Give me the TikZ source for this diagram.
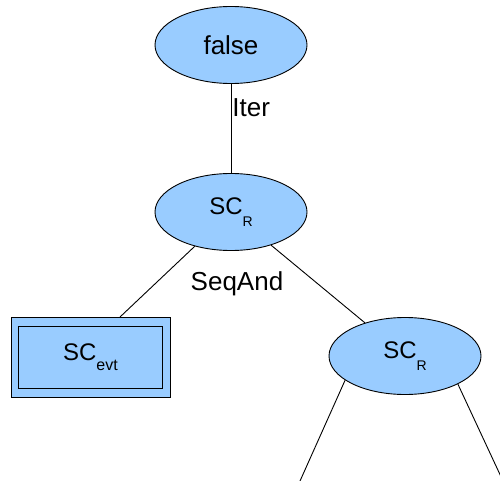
\documentclass[tikz,border=0pt]{standalone}
\usepackage{fontspec}
\setmainfont{Liberation Sans}
\usetikzlibrary{shapes.geometric}
\definecolor{nodeblue}{HTML}{99CCFF}
\newcommand{\lowtext}[3]{\raisebox{-#1pt}{\fontsize{#2}{#2}\selectfont #3}}

\begin{document}
\begin{tikzpicture}[x=1pt,y=-1pt,line width=0.9pt,
        every node/.style={font=\fontsize{26}{30}\selectfont},
        blob/.style={ellipse,draw,fill=nodeblue,minimum width=152pt,minimum height=77pt,inner sep=0pt},
        box/.style={rectangle,draw,fill=nodeblue,inner sep=0pt},
        sc/.style={font=\fontsize{24}{28}\selectfont}]
        \useasboundingbox (0,0) rectangle (500,481);

        \node (top) at (231,45)[blob]{false};
        \node (root) at (231,212)[blob,sc]{SC\lowtext{12}{14}{R}};
        \node (right) at (405,356)[blob,sc]{SC\lowtext{12}{14}{R}};
        \node (evt) at (90.5,357)[box,minimum width=159pt,minimum height=80pt]{};
        \node (evtin) at (90.5,357)[box,sc,minimum width=144pt,minimum height=62pt]{SC\lowtext{10}{16}{evt}};
        \node (seqand) at (237,284){SeqAnd};

        \coordinate (evttop) at (120,317);
        \coordinate (leftend) at (300,481);
        \coordinate (rightend) at (503,481);

        \draw (top) -- (root) node[pos=0.27,right,inner sep=1pt]{Iter};
        \draw (root) -- (evttop);
        \draw (root) -- (right);
        \draw (right.202) -- (leftend);
        \draw (right.332) -- (rightend);
    \end{tikzpicture}
\end{document}
